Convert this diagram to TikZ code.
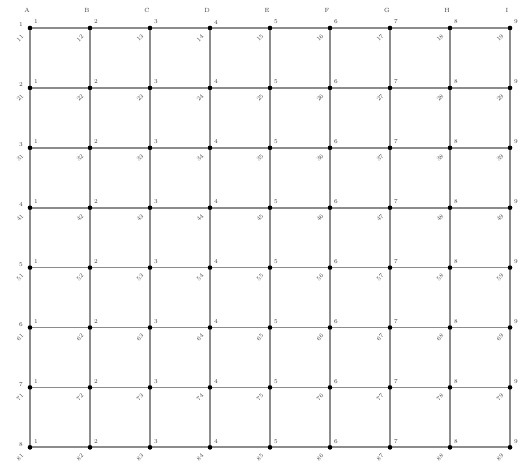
\documentclass[tikz,border=0pt]{standalone}
\begin{document}
\begin{tikzpicture}[x=1pt,y=-1pt,
  gridline/.style={draw=black!45,line width=1.8pt},
  dotnode/.style={circle,fill=black,inner sep=0pt,minimum size=4.5pt},
  lab/.style={font=\fontsize{6}{6}\selectfont,text=black!75,inner sep=0.3pt},
  dlab/.style={font=\fontsize{6}{6}\selectfont,text=black!70,inner sep=0.3pt,rotate=45}]
\useasboundingbox (0,0) rectangle (523,468);
\fill[white] (0,0) rectangle (523,468);
\foreach \i in {1,...,8}{
  \foreach \j in {1,...,9}{
    \pgfmathsetmacro{\xx}{30+60*(\j-1)}
    \pgfmathsetmacro{\yy}{28+59.9*(\i-1)}
    \node[dotnode] (d-\i-\j) at (\xx,\yy) {};
  }
}
\foreach \i in {1,...,8}{
  \draw[gridline] (d-\i-1.center) -- (d-\i-9.center);
}
\foreach \j in {1,...,9}{
  \draw[gridline] (d-1-\j.center) -- (d-8-\j.center);
}
\foreach \i in {1,...,8}{
  \foreach \j in {1,...,9}{
    \fill (d-\i-\j) circle (2.2pt);
    \node[lab] (a-\i-\j) at ([xshift=6pt,yshift=6pt]d-\i-\j.center) {\j};
    \node[dlab] (b-\i-\j) at ([xshift=-10pt,yshift=-10pt]d-\i-\j.center) {\i\j};
  }
}
\foreach \j/\t in {1/A,2/B,3/C,4/D,5/E,6/F,7/G,8/H,9/I}{
  \node[lab] (t-\j) at ([xshift=-3pt,yshift=18pt]d-1-\j.center) {\t};
}
\foreach \i in {1,...,8}{
  \node[lab] (l-\i) at ([xshift=-9pt,yshift=3pt]d-\i-1.center) {\i};
}
\end{tikzpicture}
\end{document}
